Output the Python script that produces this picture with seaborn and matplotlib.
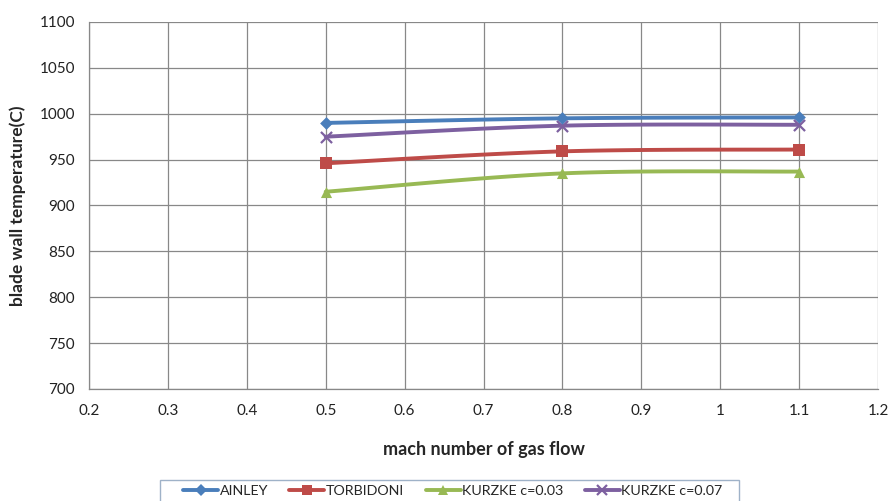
import numpy as np
import pandas as pd
import matplotlib
matplotlib.use("Agg")
import matplotlib.pyplot as plt
from matplotlib.lines import Line2D
from matplotlib.patches import Rectangle
import seaborn as sns

# Mach number of the gas flow and blade wall temperature per correlation
mach = [0.5, 0.8, 1.1]
ainley = [990, 995, 996]
torbidoni = [946, 959, 961]
kurzke_003 = [915, 935, 937]
kurzke_007 = [975, 987, 988]

series_names = ["AINLEY", "TORBIDONI", "KURZKE c=0.03", "KURZKE c=0.07"]
series_values = [ainley, torbidoni, kurzke_003, kurzke_007]
colors = ["#4A7EBB", "#BE4B48", "#98B954", "#7D60A0"]
markers = ["D", "s", "^", "x"]
marker_sizes = [6.5, 8, 8, 8]

x_ticks = [0.2, 0.3, 0.4, 0.5, 0.6, 0.7, 0.8, 0.9, 1.0, 1.1, 1.2]
x_tick_labels = ["0.2", "0.3", "0.4", "0.5", "0.6", "0.7", "0.8", "0.9", "1", "1.1", "1.2"]
y_ticks = [700, 750, 800, 850, 900, 950, 1000, 1050, 1100]

df = pd.DataFrame({
    "mach": np.tile(mach, len(series_names)),
    "temp": np.concatenate(series_values),
    "series": np.repeat(series_names, len(mach)),
})

sns.set_theme(style="white")
plt.rcParams["font.family"] = ["Lato", "DejaVu Sans"]


def smooth_curve(xs, ys, n=60):
    """Catmull-Rom style cubic Bezier through the points (spreadsheet smoothing)."""
    p = np.column_stack([xs, ys]).astype(float)
    ext = np.vstack([p[0], p, p[-1]])
    out = []
    for i in range(len(p) - 1):
        p0, p1, p2, p3 = ext[i], ext[i + 1], ext[i + 2], ext[i + 3]
        c1 = p1 + (p2 - p0) / 6.0
        c2 = p2 - (p3 - p1) / 6.0
        t = np.linspace(0, 1, n)[:, None]
        seg = ((1 - t) ** 3) * p1 + 3 * ((1 - t) ** 2) * t * c1 + 3 * (1 - t) * t ** 2 * c2 + t ** 3 * p2
        out.append(seg if i == 0 else seg[1:])
    pts = np.vstack(out)
    return pts[:, 0], pts[:, 1]


fig = plt.figure(figsize=(8.88, 5.01), dpi=100)
ax = fig.add_axes([89 / 888, 1 - 389 / 501, (878 - 89) / 888, (389 - 22) / 501])

grid_c = "#888888"
for name, col in zip(series_names, colors):
    sub = df[df["series"] == name]
    sx, sy = smooth_curve(sub["mach"].values, sub["temp"].values)
    ax.plot(sx, sy, color=col, lw=2.8, solid_capstyle="round", zorder=3)

for name, col, mk, ms in zip(series_names, colors, markers, marker_sizes):
    sub = df[df["series"] == name]
    sns.scatterplot(data=sub, x="mach", y="temp", ax=ax, color=col, marker=mk,
                    s=ms ** 2, linewidth=1.6 if mk == "x" else 0, edgecolor=col,
                    zorder=4, legend=False)

ax.set_xlim(0.2, 1.2)
ax.set_ylim(700, 1100)
ax.set_xticks(x_ticks)
ax.set_xticklabels(x_tick_labels)
ax.set_yticks(y_ticks)
ax.grid(True, color=grid_c, lw=0.9)
ax.set_axisbelow(True)
for side in ["top", "right"]:
    ax.spines[side].set_visible(False)
for side in ["left", "bottom"]:
    ax.spines[side].set_color(grid_c)
    ax.spines[side].set_linewidth(0.9)
ax.tick_params(axis="both", labelsize=11, colors="#222222", length=0)
ax.tick_params(axis="x", pad=11)
ax.tick_params(axis="y", pad=10)

ax.set_xlabel("mach number of gas flow", fontsize=13, fontweight="bold", labelpad=16)
ax.set_ylabel("blade wall temperature(C)", fontsize=12.5, fontweight="bold", labelpad=10)

# Legend box below the plot (runs past the bottom edge of the figure)
fig.patches.append(Rectangle((160 / 888, -0.1), (739 - 160) / 888, 0.1 + (1 - 480 / 501),
                             transform=fig.transFigure, facecolor="white",
                             edgecolor="#9FB2C8", lw=1.0, zorder=0))

handles = [Line2D([0], [0], color=c, lw=2.8, marker=m, markersize=ms - 0.5,
                  markeredgewidth=1.6 if m == "x" else 0, markeredgecolor=c)
           for c, m, ms in zip(colors, markers, marker_sizes)]
leg = fig.legend(handles, series_names, loc="upper left",
                 bbox_to_anchor=(183 / 888, 1 - 485 / 501), ncol=4,
                 fontsize=10.3, frameon=False, handlelength=2.45,
                 handletextpad=0.1, columnspacing=1.5, borderpad=0,
                 borderaxespad=0)

fig.savefig("out.png", dpi=100)
